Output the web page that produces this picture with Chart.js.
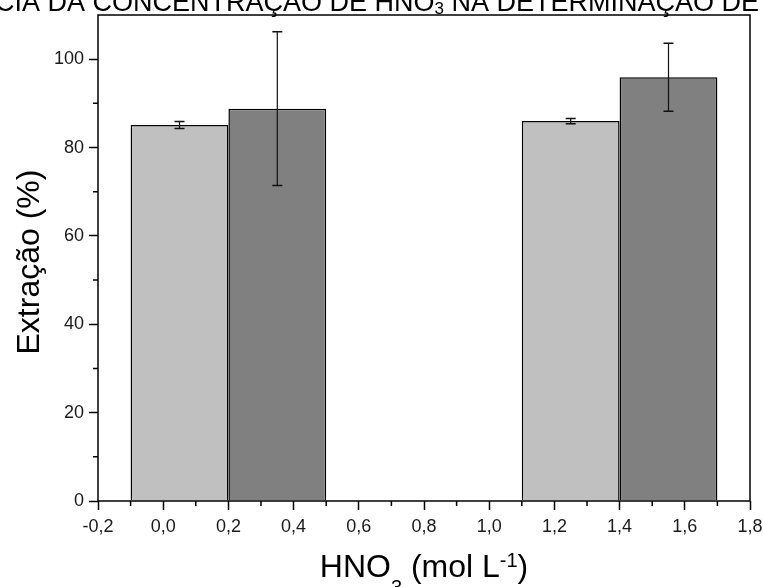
<!DOCTYPE html>
<html>
<head>
<meta charset="utf-8">
<script src="https://cdn.jsdelivr.net/npm/chart.js@4.4.0/dist/chart.umd.min.js"></script>
<style>
  html, body { margin: 0; padding: 0; background: #fff; }
</style>
</head>
<body>
<canvas id="graph" width="763" height="587"></canvas>
<script>
// values
const concLight = [0.05, 1.25];   // bar centres (mol L-1), light series
const concDark = [0.35, 1.55];    // bar centres, dark series
const extrLight = [85.1, 86.0];   // Extração (%)
const extrDark = [88.8, 95.9];
const errLight = [0.8, 0.6];
const errDark = [17.4, 7.7];

const xTicks = [-0.2, 0, 0.2, 0.4, 0.6, 0.8, 1.0, 1.2, 1.4, 1.6, 1.8];
const xMinor = [-0.1, 0.1, 0.3, 0.5, 0.7, 0.9, 1.1, 1.3, 1.5, 1.7];
const yTicks = [0, 20, 40, 60, 80, 100];
const yMinor = [10, 30, 50, 70, 90];

const FONT = "'Liberation Sans', Arial, sans-serif";
Chart.defaults.font.family = FONT;
Chart.defaults.color = '#111';

// draw text pieces (normal / sub / super) centred at cx
function richText(ctx, parts, cx, baseline) {
  let w = 0;
  parts.forEach(p => { ctx.font = p.size + 'px ' + FONT; w += ctx.measureText(p.t).width; });
  let x = cx - w / 2;
  ctx.textAlign = 'left';
  ctx.textBaseline = 'alphabetic';
  parts.forEach(p => {
    ctx.font = p.size + 'px ' + FONT;
    ctx.fillText(p.t, x, baseline + (p.dy || 0));
    x += ctx.measureText(p.t).width;
  });
}

// error bars, minor ticks, frame and titles
const extras = {
  id: 'extras',
  afterDatasetsDraw(chart) {
    const ctx = chart.ctx;
    const { left, right, top, bottom } = chart.chartArea;
    const ys = chart.scales.y, xs = chart.scales.x;
    ctx.save();

    // error bars
    const errs = [errLight, errDark];
    const vals = [extrLight, extrDark];
    ctx.strokeStyle = '#111';
    chart.data.datasets.forEach((ds, i) => {
      chart.getDatasetMeta(i).data.forEach((bar, j) => {
        const yHi = ys.getPixelForValue(vals[i][j] + errs[i][j]);
        const yLo = ys.getPixelForValue(vals[i][j] - errs[i][j]);
        ctx.lineWidth = 1.2;
        ctx.beginPath();
        ctx.moveTo(bar.x, yHi); ctx.lineTo(bar.x, yLo);
        ctx.stroke();
        ctx.lineWidth = 1.5;
        ctx.beginPath();
        ctx.moveTo(bar.x - 5, yHi); ctx.lineTo(bar.x + 5, yHi);
        ctx.moveTo(bar.x - 5, yLo); ctx.lineTo(bar.x + 5, yLo);
        ctx.stroke();
      });
    });

    // frame
    ctx.strokeStyle = '#000';
    ctx.lineWidth = 1.5;
    ctx.strokeRect(left, top, right - left, bottom - top);

    // minor ticks
    ctx.beginPath();
    xMinor.forEach(v => {
      const px = xs.getPixelForValue(v);
      ctx.moveTo(px, bottom); ctx.lineTo(px, bottom + 5);
    });
    yMinor.forEach(v => {
      const py = ys.getPixelForValue(v);
      ctx.moveTo(left, py); ctx.lineTo(left - 5, py);
    });
    ctx.stroke();

    // titles
    ctx.fillStyle = '#000';
    ctx.save();
    ctx.translate(30, 262);
    ctx.rotate(-Math.PI / 2);
    ctx.font = '32px ' + FONT;
    ctx.textAlign = 'center';
    ctx.textBaseline = 'middle';
    ctx.fillText('Extração (%)', 0, 0);
    ctx.restore();

    richText(ctx, [
      { t: 'HNO', size: 32 },
      { t: '3', size: 20, dy: 17 },
      { t: ' (mol L', size: 32 },
      { t: '-1', size: 20, dy: -10 },
      { t: ')', size: 32 }
    ], 424, 577);

    richText(ctx, [
      { t: 'CIA DA CONCENTRAÇÃO DE HNO', size: 27 },
      { t: '3', size: 17, dy: 3 },
      { t: ' NA DETERMINAÇÃO DE', size: 27 }
    ], 377, 11);

    ctx.restore();
  }
};

const barStyle = {
  borderColor: '#000',
  borderWidth: 1.5,
  borderSkipped: 'start',
  grouped: false,
  categoryPercentage: 1.5,
  barPercentage: 1
};

const graph = document.getElementById('graph');

let myChart = new Chart(graph, {
  type: 'bar',
  data: {
    datasets: [
      Object.assign({
        data: concLight.map((x, i) => ({ x: x, y: extrLight[i] })),
        backgroundColor: '#c0c0c0'
      }, barStyle),
      Object.assign({
        data: concDark.map((x, i) => ({ x: x, y: extrDark[i] })),
        backgroundColor: '#808080'
      }, barStyle)
    ]
  },
  options: {
    responsive: false,
    animation: false,
    layout: { padding: { top: 15, right: 13, left: 0, bottom: 0 } },
    plugins: { legend: { display: false }, tooltip: { enabled: false } },
    scales: {
      x: {
        type: 'linear',
        min: -0.2,
        max: 1.8,
        offset: false,
        border: { display: false },
        grid: { offset: false, drawOnChartArea: false, tickLength: 9, tickWidth: 1.5, tickColor: '#000' },
        ticks: {
          autoSkip: false,
          maxRotation: 0,
          padding: 6,
          font: { size: 18 },
          color: '#1a1a1a',
          callback: v => v.toFixed(1).replace('.', ',')
        },
        afterBuildTicks: s => { s.ticks = xTicks.map(v => ({ value: v })); },
        afterFit: s => { s.height = 86; s.paddingLeft = 0; s.paddingRight = 0; }
      },
      y: {
        min: 0,
        max: 110,
        border: { display: false },
        grid: { drawOnChartArea: false, tickLength: 9, tickWidth: 1.5, tickColor: '#000' },
        ticks: { padding: 5, font: { size: 18 }, color: '#1a1a1a' },
        afterBuildTicks: s => { s.ticks = yTicks.map(v => ({ value: v })); },
        afterFit: s => { s.width = 98; s.paddingTop = 0; s.paddingBottom = 0; }
      }
    }
  },
  plugins: [extras]
});
</script>
</body>
</html>
